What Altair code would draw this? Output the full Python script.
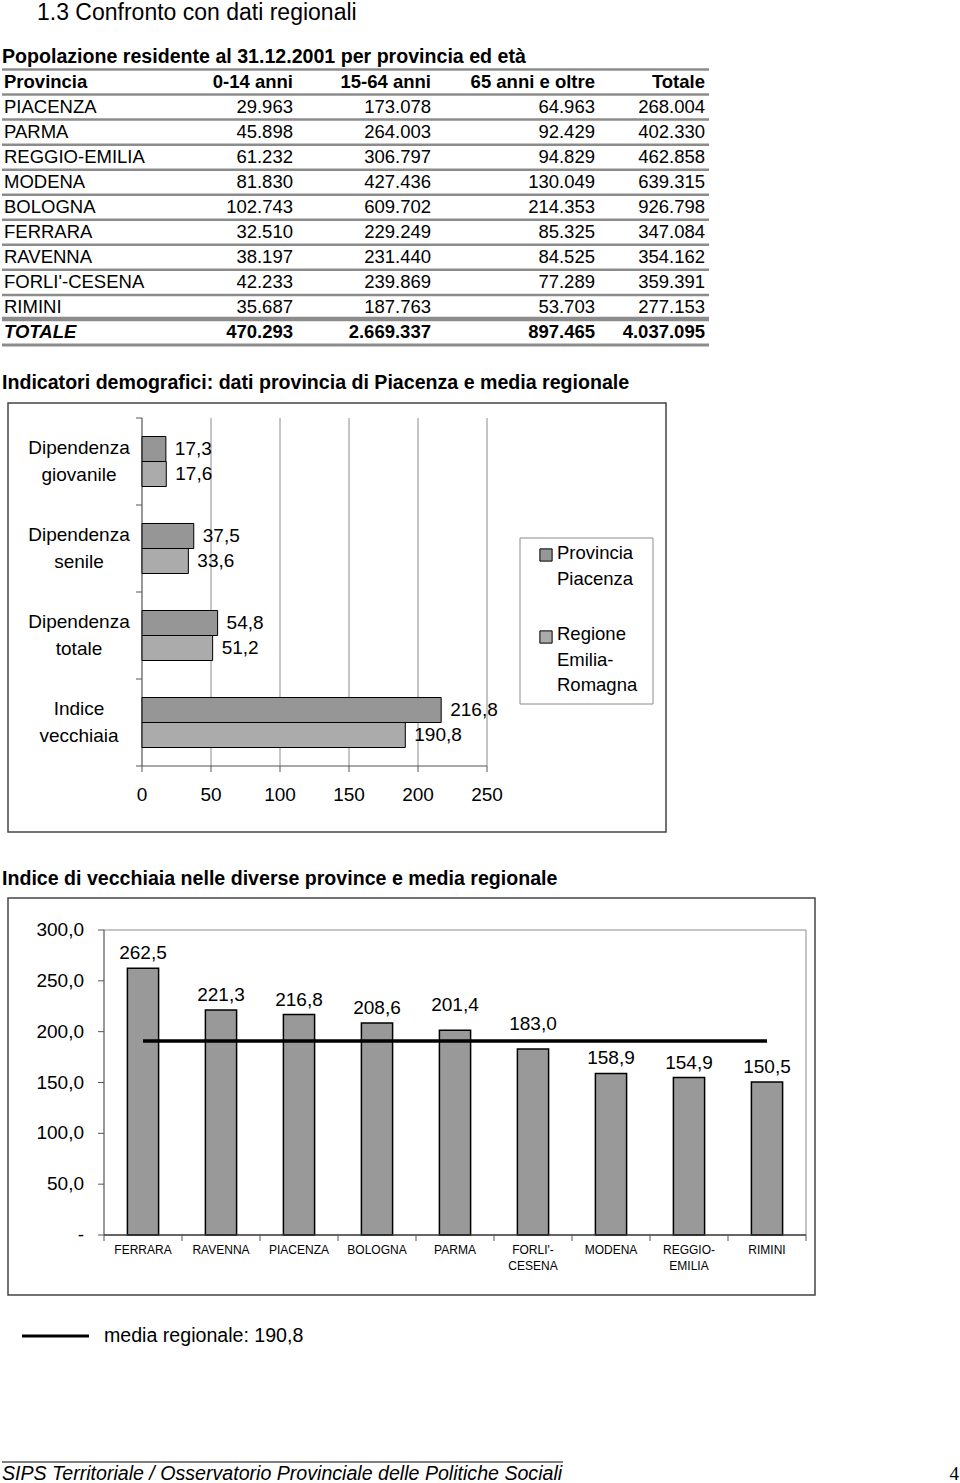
import altair as alt
import pandas as pd

FONT = "Liberation Sans"
SERIF = "Liberation Serif"

# ---------------- data ----------------
page_title = "1.3 Confronto con dati regionali"

table_title = "Popolazione residente al 31.12.2001 per provincia ed età"
table_headers = ["Provincia", "0-14 anni", "15-64 anni", "65 anni e oltre", "Totale"]
provinces = ["PIACENZA", "PARMA", "REGGIO-EMILIA", "MODENA", "BOLOGNA",
             "FERRARA", "RAVENNA", "FORLI'-CESENA", "RIMINI"]
pop_0_14 = [29963, 45898, 61232, 81830, 102743, 32510, 38197, 42233, 35687]
pop_15_64 = [173078, 264003, 306797, 427436, 609702, 229249, 231440, 239869, 187763]
pop_65_plus = [64963, 92429, 94829, 130049, 214353, 85325, 84525, 77289, 53703]
pop_total = [268004, 402330, 462858, 639315, 926798, 347084, 354162, 359391, 277153]
total_label = "TOTALE"
total_values = [470293, 2669337, 897465, 4037095]

ind_title = "Indicatori demografici: dati provincia di Piacenza e media regionale"
ind_categories = ["Dipendenza giovanile", "Dipendenza senile", "Dipendenza totale", "Indice vecchiaia"]
ind_series = ["Provincia Piacenza", "Regione Emilia-Romagna"]
ind_piacenza = [17.3, 37.5, 54.8, 216.8]
ind_regione = [17.6, 33.6, 51.2, 190.8]
ind_ticks = [0, 50, 100, 150, 200, 250]

old_title = "Indice di vecchiaia nelle diverse province e media regionale"
old_provinces = ["FERRARA", "RAVENNA", "PIACENZA", "BOLOGNA", "PARMA",
                 "FORLI'-CESENA", "MODENA", "REGGIO-EMILIA", "RIMINI"]
old_index = [262.5, 221.3, 216.8, 208.6, 201.4, 183.0, 158.9, 154.9, 150.5]
old_mean = 190.8
old_ticks = [0, 50, 100, 150, 200, 250, 300]
old_legend_label = "media regionale: "

footer_text = "SIPS Territoriale / Osservatorio Provinciale delle Politiche Sociali"
page_number = "4"

# ---------------- styling ----------------
FS = 19
TFS = 18.5
HFS = 19.6
GRID = "#8c8c8c"
C_PROV = "#969696"
C_REG = "#ababab"
C_BAR = "#999999"

THOUS = "replace(format(datum.{f}, ','), regexp(',', 'g'), '.')"
DEC = "replace(format(datum.{f}, '.1f'), '.', ',')"

one = lambda **kw: pd.DataFrame({k: [v] for k, v in kw.items()})


def static_text(s, x, y, size=FS, weight="normal", style="normal", align="left",
                baseline="middle", font=FONT):
    return alt.Chart(one(t=s)).mark_text(
        align=align, baseline=baseline, fontSize=size, fontWeight=weight,
        fontStyle=style, font=font, color="black"
    ).encode(text="t:N", x=alt.value(x), y=alt.value(y))


def box(x1, y1, x2, y2, color, width=1):
    return alt.Chart(one(k=0)).mark_rect(fillOpacity=0, stroke=color, strokeWidth=width).encode(
        x=alt.value(x1), x2=alt.value(x2), y=alt.value(y1), y2=alt.value(y2))


layers = []

# ---------------- titles ----------------
layers.append(static_text(page_title, 37, 13, size=23))
layers.append(static_text(table_title, 2, 57, size=HFS, weight="bold"))
layers.append(static_text(ind_title, 2, 383, size=HFS, weight="bold"))
layers.append(static_text(old_title, 2, 879, size=HFS, weight="bold"))

# ---------------- table ----------------
rows = provinces + [total_label]
row_domain = [table_headers[0]] + rows
y_tab = alt.Scale(domain=row_domain, range=[69.5, 345], paddingInner=0, paddingOuter=0)
tab = pd.DataFrame({
    "row": rows,
    "c1": pop_0_14 + [total_values[0]],
    "c2": pop_15_64 + [total_values[1]],
    "c3": pop_65_plus + [total_values[2]],
    "c4": pop_total + [total_values[3]],
    "tot": [0] * len(provinces) + [1],
})
col_right = [293, 431, 595, 705]

# lines
lines_df = pd.DataFrame({"row": row_domain})
layers.append(alt.Chart(lines_df).mark_rule(color=GRID, strokeWidth=2.5).encode(
    y=alt.Y("row:N", scale=y_tab, axis=None, bandPosition=0),
    x=alt.value(2), x2=alt.value(709)))
layers.append(alt.Chart(lines_df).transform_filter(f"datum.row == '{total_label}'").mark_rule(
    color=GRID, strokeWidth=2.5, yOffset=-2).encode(
    y=alt.Y("row:N", scale=y_tab, axis=None, bandPosition=0),
    x=alt.value(2), x2=alt.value(709)))
layers.append(alt.Chart(lines_df).transform_filter(f"datum.row == '{total_label}'").mark_rule(
    color=GRID, strokeWidth=3).encode(
    y=alt.Y("row:N", scale=y_tab, axis=None, bandPosition=1),
    x=alt.value(2), x2=alt.value(709)))

# header
hdr = pd.DataFrame({"row": [table_headers[0]] * 5, "h": table_headers, "k": list(range(5))})
for k in range(5):
    layers.append(alt.Chart(hdr).transform_filter(f"datum.k == {k}").mark_text(
        align="left" if k == 0 else "right", baseline="middle", fontSize=TFS,
        fontWeight="bold", font=FONT, color="black").encode(
        y=alt.Y("row:N", scale=y_tab, axis=None),
        x=alt.value(4 if k == 0 else col_right[k - 1]), text="h:N"))

# body
for is_tot in (0, 1):
    weight = "bold" if is_tot else "normal"
    layers.append(alt.Chart(tab).transform_filter(f"datum.tot == {is_tot}").mark_text(
        align="left", baseline="middle", fontSize=TFS, fontWeight=weight,
        fontStyle="italic" if is_tot else "normal", font=FONT, color="black").encode(
        y=alt.Y("row:N", scale=y_tab, axis=None), x=alt.value(4), text="row:N"))
    for i, f in enumerate(["c1", "c2", "c3", "c4"]):
        layers.append(alt.Chart(tab).transform_filter(f"datum.tot == {is_tot}").transform_calculate(
            lab=THOUS.format(f=f)).mark_text(
            align="right", baseline="middle", fontSize=TFS, fontWeight=weight,
            font=FONT, color="black").encode(
            y=alt.Y("row:N", scale=y_tab, axis=None), x=alt.value(col_right[i]), text="lab:N"))

# ---------------- indicator chart (horizontal bars) ----------------
layers.append(box(8, 403, 666, 832, "#444444", 1.5))
ind = pd.DataFrame({
    "cat": ind_categories * 2,
    "serie": [ind_series[0]] * 4 + [ind_series[1]] * 4,
    "val": ind_piacenza + ind_regione,
})
hx = alt.Scale(domain=[ind_ticks[0], ind_ticks[-1]], range=[142, 487], nice=False, zero=True)
hy = alt.Scale(domain=ind_categories, range=[418, 766], paddingInner=0.425, paddingOuter=0.2125)
hy_full = alt.Scale(domain=ind_categories, range=[418, 766], paddingInner=0, paddingOuter=0)
hoff = alt.Scale(domain=ind_series, paddingInner=0, paddingOuter=0)
hcol = alt.Scale(domain=ind_series, range=[C_PROV, C_REG])

ticks_h = pd.DataFrame({"t": ind_ticks})
# gridlines
layers.append(alt.Chart(ticks_h).transform_filter("datum.t > 0").mark_rule(color=GRID, strokeWidth=1).encode(
    x=alt.X("t:Q", scale=hx, axis=None), y=alt.value(418), y2=alt.value(766)))
# left axis line
layers.append(alt.Chart(ticks_h).transform_filter("datum.t == 0").mark_rule(color="#555555", strokeWidth=1.2).encode(
    x=alt.X("t:Q", scale=hx, axis=None), y=alt.value(418), y2=alt.value(766)))
# bottom axis line
layers.append(alt.Chart(one(lo=ind_ticks[0], hi=ind_ticks[-1])).mark_rule(color="#555555", strokeWidth=1.2).encode(
    x=alt.X("lo:Q", scale=hx, axis=None), x2="hi:Q", y=alt.value(766)))
# bottom ticks
layers.append(alt.Chart(ticks_h).mark_rule(color="#555555", strokeWidth=1).encode(
    x=alt.X("t:Q", scale=hx, axis=None), y=alt.value(766), y2=alt.value(772)))
# tick labels
layers.append(alt.Chart(ticks_h).mark_text(fontSize=FS, font=FONT, color="black", baseline="middle").encode(
    x=alt.X("t:Q", scale=hx, axis=None), y=alt.value(795), text="t:N"))
# left category ticks
cat_df = pd.DataFrame({"cat": ind_categories})
layers.append(alt.Chart(cat_df).mark_rule(color="#555555", strokeWidth=1).encode(
    y=alt.Y("cat:N", scale=hy_full, axis=None, bandPosition=0), x=alt.value(136), x2=alt.value(142)))
layers.append(alt.Chart(cat_df).transform_filter(f"datum.cat == '{ind_categories[-1]}'").mark_rule(
    color="#555555", strokeWidth=1).encode(
    y=alt.Y("cat:N", scale=hy_full, axis=None, bandPosition=1), x=alt.value(136), x2=alt.value(142)))
# category labels (two lines, block centred on the band)
layers.append(alt.Chart(cat_df).transform_calculate(lab="replace(datum.cat, ' ', '|')").mark_text(
    align="center", baseline="middle", lineBreak="|", lineHeight=27, dy=-13.5, fontSize=FS, font=FONT,
    color="black").encode(y=alt.Y("cat:N", scale=hy, axis=None), x=alt.value(79), text="lab:N"))
# bars
layers.append(alt.Chart(ind).mark_bar(stroke="black", strokeWidth=1).encode(
    x=alt.X("val:Q", scale=hx, axis=None),
    y=alt.Y("cat:N", scale=hy, axis=None),
    yOffset=alt.YOffset("serie:N", scale=hoff),
    color=alt.Color("serie:N", scale=hcol, legend=None)))
# value labels
for s, dy in zip(ind_series, (-12.5, 12.5)):
    layers.append(alt.Chart(ind).transform_filter(f"datum.serie == '{s}'").transform_calculate(
        lab=DEC.format(f="val")).mark_text(
        align="left", baseline="middle", dx=9, dy=dy, fontSize=FS, font=FONT, color="black").encode(
        x=alt.X("val:Q", scale=hx, axis=None), y=alt.Y("cat:N", scale=hy, axis=None), text="lab:N"))
# legend
layers.append(box(520, 538, 653, 704, GRID, 1))
leg = pd.DataFrame({"serie": ind_series})
for s, ysq, yt in zip(ind_series, (555, 637), (553, 634)):
    layers.append(alt.Chart(leg).transform_filter(f"datum.serie == '{s}'").mark_square(
        size=150, opacity=1, stroke="black", strokeWidth=1).encode(
        x=alt.value(546), y=alt.value(ysq), color=alt.Color("serie:N", scale=hcol, legend=None)))
    layers.append(alt.Chart(leg).transform_filter(f"datum.serie == '{s}'").transform_calculate(
        lab="replace(replace(datum.serie, ' ', '|'), '-', '-|')").mark_text(
        align="left", baseline="middle", lineBreak="|", lineHeight=25.5, fontSize=18.5, font=FONT,
        color="black").encode(x=alt.value(557), y=alt.value(yt), text="lab:N"))

# ---------------- old-age index chart (vertical bars) ----------------
layers.append(box(8, 898, 815, 1295, "#444444", 1.5))
old = pd.DataFrame({"p": old_provinces, "v": old_index})
vx = alt.Scale(domain=old_provinces, range=[104, 806], paddingInner=0.6, paddingOuter=0.3)
vx_full = alt.Scale(domain=old_provinces, range=[104, 806], paddingInner=0, paddingOuter=0)
vy = alt.Scale(domain=[old_ticks[0], old_ticks[-1]], range=[1235, 930], nice=False, zero=True)

ext = one(lo=old_ticks[0], hi=old_ticks[-1])
# frame (grey top / right)
layers.append(alt.Chart(ext).mark_rule(color=GRID, strokeWidth=1).encode(
    y=alt.Y("hi:Q", scale=vy, axis=None), x=alt.value(104), x2=alt.value(806)))
layers.append(alt.Chart(ext).mark_rule(color=GRID, strokeWidth=1).encode(
    y=alt.Y("lo:Q", scale=vy, axis=None), y2="hi:Q", x=alt.value(806)))
# left axis
layers.append(alt.Chart(ext).mark_rule(color="#555555", strokeWidth=1.2).encode(
    y=alt.Y("lo:Q", scale=vy, axis=None), y2="hi:Q", x=alt.value(104)))
ticks_v = pd.DataFrame({"t": old_ticks})
layers.append(alt.Chart(ticks_v).mark_rule(color="#555555", strokeWidth=1).encode(
    y=alt.Y("t:Q", scale=vy, axis=None), x=alt.value(98), x2=alt.value(104)))
layers.append(alt.Chart(ticks_v).transform_calculate(
    lab="datum.t == 0 ? '-' : " + DEC.format(f="t")).mark_text(
    align="right", baseline="middle", fontSize=FS, font=FONT, color="black").encode(
    y=alt.Y("t:Q", scale=vy, axis=None), x=alt.value(84), text="lab:N"))
# bars
layers.append(alt.Chart(old).mark_bar(color=C_BAR, stroke="black", strokeWidth=1.5).encode(
    x=alt.X("p:N", scale=vx, axis=None), y=alt.Y("v:Q", scale=vy, axis=None)))
# bottom axis
layers.append(alt.Chart(ext).mark_rule(color="#333333", strokeWidth=1.5).encode(
    y=alt.Y("lo:Q", scale=vy, axis=None), x=alt.value(104), x2=alt.value(806)))
pdf = pd.DataFrame({"p": old_provinces})
layers.append(alt.Chart(pdf).mark_rule(color="#555555", strokeWidth=1).encode(
    x=alt.X("p:N", scale=vx_full, axis=None, bandPosition=0), y=alt.value(1235), y2=alt.value(1241)))
layers.append(alt.Chart(pdf).transform_filter(f"datum.p == '{old_provinces[-1]}'").mark_rule(
    color="#555555", strokeWidth=1).encode(
    x=alt.X("p:N", scale=vx_full, axis=None, bandPosition=1), y=alt.value(1235), y2=alt.value(1241)))
# category labels
layers.append(alt.Chart(pdf).transform_calculate(lab="replace(datum.p, '-', '-|')").mark_text(
    align="center", baseline="top", lineBreak="|", lineHeight=16, fontSize=12, font=FONT,
    color="black").encode(x=alt.X("p:N", scale=vx, axis=None), y=alt.value(1245), text="lab:N"))
# mean line
layers.append(alt.Chart(old).transform_calculate(m=str(old_mean)).mark_line(
    color="black", strokeWidth=3.5).encode(
    x=alt.X("p:N", scale=vx, axis=None), y=alt.Y("m:Q", scale=vy, axis=None)))
# value labels (lifted when too close to the mean line)
layers.append(alt.Chart(old).transform_calculate(
    lab=DEC.format(f="v"),
    ly=f"datum.v + (abs(datum.v - {old_mean}) < 15 ? 10 : 0)").mark_text(
    align="center", baseline="middle", dy=-15, fontSize=FS, font=FONT, color="black").encode(
    x=alt.X("p:N", scale=vx, axis=None), y=alt.Y("ly:Q", scale=vy, axis=None), text="lab:N"))

# legend for the mean line
layers.append(alt.Chart(one(k=0)).mark_rule(color="black", strokeWidth=3).encode(
    x=alt.value(22), x2=alt.value(89), y=alt.value(1336)))
layers.append(alt.Chart(one(m=old_mean)).transform_calculate(
    lab=f"'{old_legend_label}' + " + DEC.format(f="m")).mark_text(
    align="left", baseline="middle", fontSize=HFS, font=FONT, color="black").encode(
    x=alt.value(104), y=alt.value(1336), text="lab:N"))

# ---------------- footer ----------------
layers.append(alt.Chart(one(k=0)).mark_rule(color="black", strokeWidth=1).encode(
    x=alt.value(2), x2=alt.value(563), y=alt.value(1462)))
layers.append(static_text(footer_text, 2, 1474, size=HFS, style="italic"))
layers.append(static_text(page_number, 959, 1474, size=19, align="right", font=SERIF))

chart = alt.layer(*layers).resolve_scale(
    x="independent", y="independent"
).properties(
    width=960, height=1483, padding=0, background="white",
    autosize=alt.AutoSizeParams(type="none"),
).configure_view(stroke=None)

chart.save("out.html", embed_options={"renderer": "svg", "actions": False})
